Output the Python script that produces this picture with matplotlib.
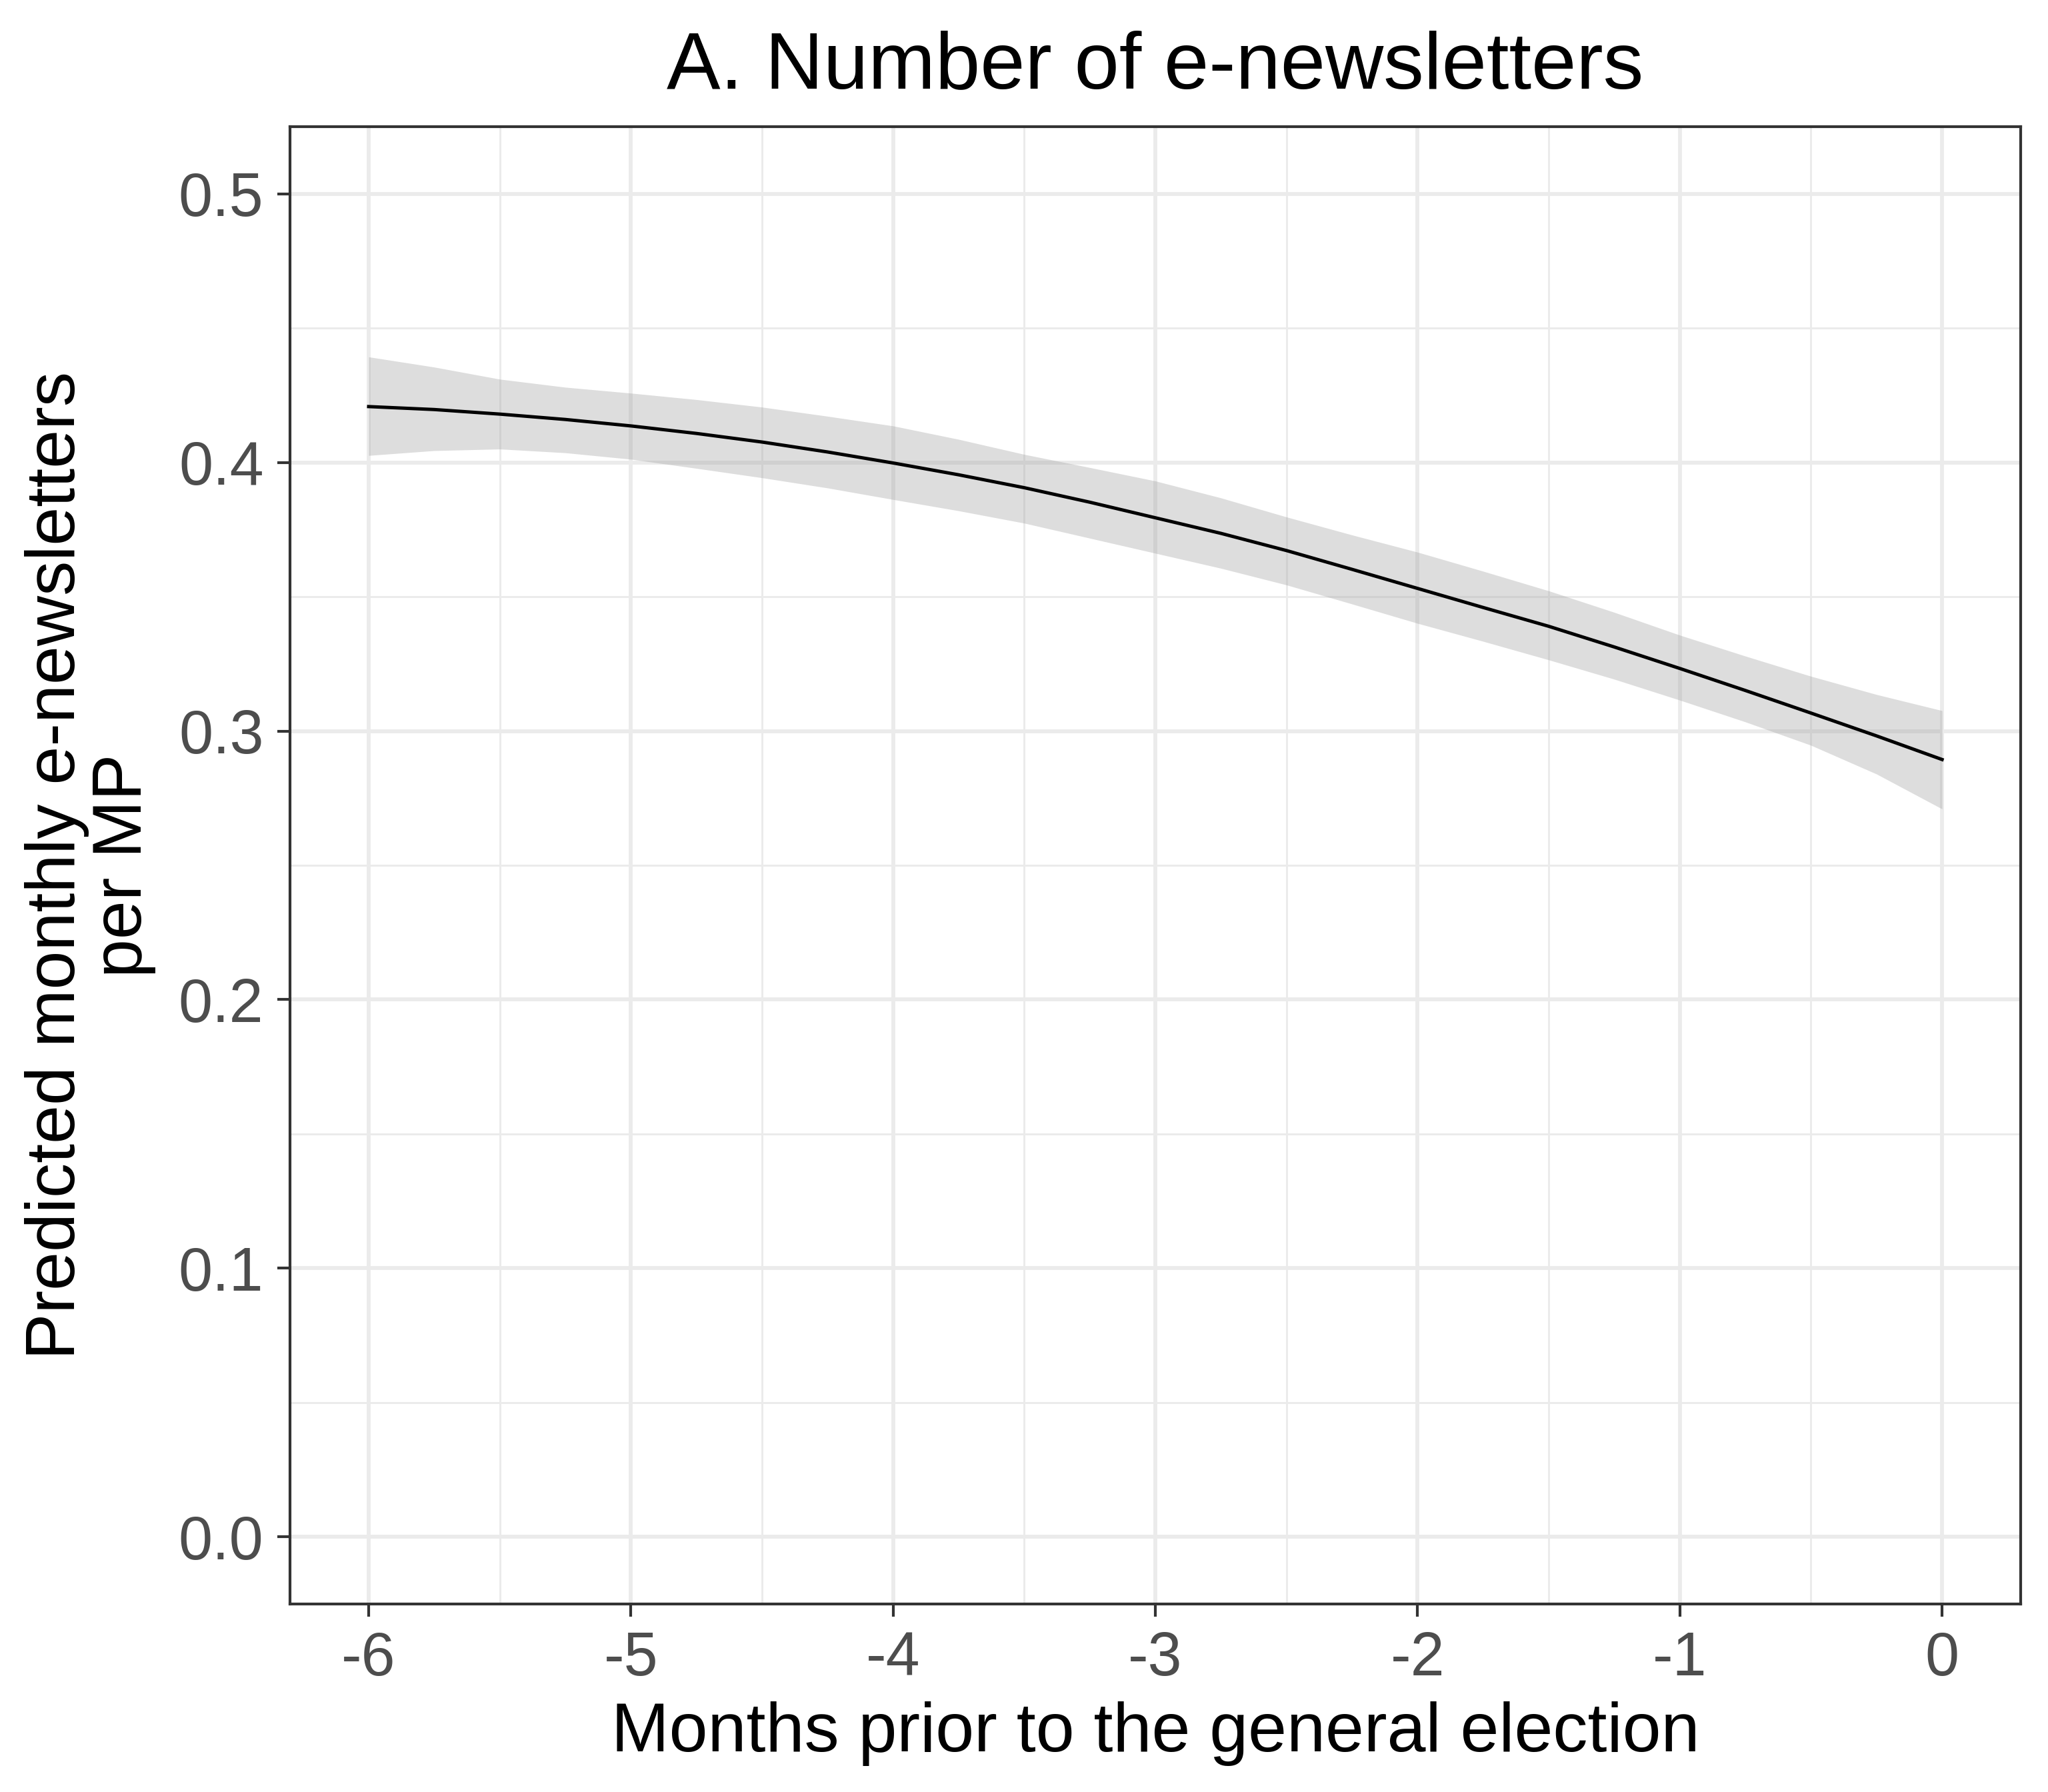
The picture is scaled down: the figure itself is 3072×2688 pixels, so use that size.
import numpy as np
import matplotlib
matplotlib.use("Agg")
import matplotlib.pyplot as plt
from matplotlib.ticker import MultipleLocator

# values (months before election vs predicted count)
months = [-6.0, -5.75, -5.5, -5.25, -5.0, -4.75, -4.5, -4.25, -4.0, -3.75, -3.5, -3.25,
          -3.0, -2.75, -2.5, -2.25, -2.0, -1.75, -1.5, -1.25, -1.0, -0.75, -0.5, -0.25, 0.0]
fit = [0.4208, 0.4197, 0.4180, 0.4160, 0.4136, 0.4108, 0.4076, 0.4039, 0.3998, 0.3954, 0.3906, 0.3852,
       0.3794, 0.3736, 0.3672, 0.3602, 0.3531, 0.3460, 0.3390, 0.3313, 0.3233, 0.3151, 0.3067, 0.2982, 0.2894]
upper = [0.4393, 0.4355, 0.4310, 0.4280, 0.4258, 0.4234, 0.4206, 0.4172, 0.4136, 0.4086, 0.4030, 0.3981,
         0.3931, 0.3868, 0.3797, 0.3730, 0.3666, 0.3595, 0.3522, 0.3442, 0.3357, 0.3279, 0.3204, 0.3136, 0.3076]
lower = [0.4026, 0.4044, 0.4050, 0.4036, 0.4012, 0.3978, 0.3943, 0.3905, 0.3862, 0.3820, 0.3774, 0.3718,
         0.3662, 0.3606, 0.3544, 0.3473, 0.3401, 0.3334, 0.3265, 0.3193, 0.3115, 0.3034, 0.2947, 0.2840, 0.2710]

x_ticks = [-6, -5, -4, -3, -2, -1, 0]
y_ticks = [0.0, 0.1, 0.2, 0.3, 0.4, 0.5]

plt.rcParams['font.family'] = ['Liberation Sans', 'DejaVu Sans']

fig = plt.figure(figsize=(10.24, 8.96), dpi=300)
ax = fig.add_axes([0.1416, 0.1049, 0.8451, 0.8244])

ax.fill_between(months, lower, upper, color='#999999', alpha=0.33, linewidth=0, zorder=2)
ax.plot(months, fit, color='black', linewidth=1.2, zorder=3)

ax.set_xlim(-6.3, 0.3)
ax.set_ylim(-0.025, 0.525)
ax.set_xticks(x_ticks)
ax.set_xticklabels([str(t) for t in x_ticks])
ax.set_yticks(y_ticks)
ax.set_yticklabels(["%.1f" % t for t in y_ticks])
ax.xaxis.set_minor_locator(MultipleLocator(0.5))
ax.yaxis.set_minor_locator(MultipleLocator(0.05))

ax.grid(which='major', color='#EBEBEB', linewidth=1.4, zorder=0)
ax.grid(which='minor', color='#EBEBEB', linewidth=0.7, zorder=0)
ax.set_axisbelow(True)
ax.tick_params(which='minor', length=0)
ax.tick_params(which='major', length=4.5, width=1.0, color='#333333',
               labelsize=22, labelcolor='#4D4D4D', pad=5)
for sp in ax.spines.values():
    sp.set_color('#333333')
    sp.set_linewidth(1.0)

ax.set_xlabel("Months prior to the general election", fontsize=25, labelpad=5)
ax.set_ylabel("Predicted monthly e-newsletters\nper MP", fontsize=25, labelpad=8, linespacing=1.05)
ax.set_title("A. Number of e-newsletters", fontsize=29, pad=14)

fig.savefig("out.png", dpi=300)
